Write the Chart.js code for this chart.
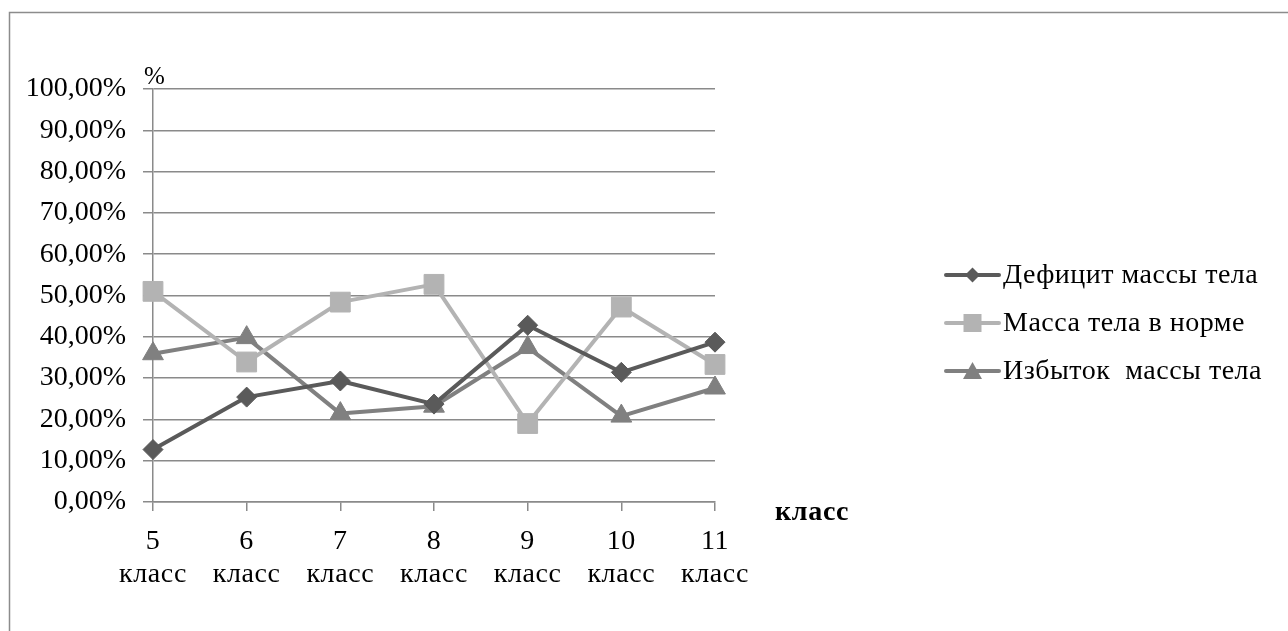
<!DOCTYPE html>
<html lang="ru">
<head>
<meta charset="utf-8">
<title>Распределение учащихся по массе тела</title>
<script src="https://cdn.jsdelivr.net/npm/chart.js@4.4.1/dist/chart.umd.min.js"></script>
<style>
  html, body { margin: 0; padding: 0; background: #ffffff; }
  #wrap { position: relative; width: 1288px; height: 631px; overflow: hidden; }
  canvas { display: block; }
</style>
</head>
<body>
<div id="wrap"><canvas id="chart" width="1288" height="631" style="width:1288px;height:631px"></canvas></div>
<script>
// Classes on the horizontal axis (two-line labels)
const categories = [
  ['5', 'класс'], ['6', 'класс'], ['7', 'класс'], ['8', 'класс'],
  ['9', 'класс'], ['10', 'класс'], ['11', 'класс']
];

// Share of pupils, %
const deficitValues = [12.7, 25.4, 29.3, 23.7, 42.8, 31.4, 38.7];
const normalValues  = [51.0, 33.9, 48.4, 52.7, 19.0, 47.2, 33.3];
const excessValues  = [35.9, 39.8, 21.4, 23.2, 37.4, 20.8, 27.6];

const seriesNames = ['Дефицит массы тела', 'Масса тела в норме', 'Избыток  массы тела'];

// Vertical axis tick labels, 0 to 100 in steps of 10
const yTickLabels = ['0,00%', '10,00%', '20,00%', '30,00%', '40,00%', '50,00%',
                     '60,00%', '70,00%', '80,00%', '90,00%', '100,00%'];

const yAxisTitle = '%';
const xAxisTitle = 'класс';

const FONT = "'Liberation Serif', 'Times New Roman', serif";
const AXIS_GRAY = '#8a8a8a';
const colors = ['#5a5a5a', '#b3b3b3', '#808080'];
const pointStyles = ['rectRot', 'rect', 'triangle'];
const pointRadii = [10, 14, 12];

// White page with the outer frame of the chart object
const framePlugin = {
  id: 'frame',
  beforeDraw(chart) {
    const ctx = chart.ctx;
    ctx.save();
    ctx.fillStyle = '#ffffff';
    ctx.fillRect(0, 0, chart.width, chart.height);
    ctx.strokeStyle = '#8c8c8c';
    ctx.lineWidth = 1.5;
    ctx.strokeRect(9.5, 12.5, chart.width + 20, chart.height + 20);
    ctx.restore();

    // slightly looser tracking for the category labels
    const xs = chart.scales.x;
    if (xs && !xs._tracked) {
      const orig = xs.drawLabels.bind(xs);
      xs.drawLabels = function (area) {
        const c = this.ctx;
        c.save();
        c.letterSpacing = '0.6px';
        orig(area);
        c.restore();
      };
      xs._tracked = true;
    }
  }
};

// Axis captions and the legend with line + marker samples
const extrasPlugin = {
  id: 'extras',
  afterDraw(chart) {
    const ctx = chart.ctx;
    const area = chart.chartArea;
    ctx.save();
    ctx.fillStyle = '#000000';
    ctx.textBaseline = 'alphabetic';
    ctx.textAlign = 'left';
    ctx.font = '25px ' + FONT;
    ctx.fillText(yAxisTitle, area.left - 9, area.top - 5);

    ctx.font = 'bold 28px ' + FONT;
    ctx.letterSpacing = '0.7px';
    ctx.textBaseline = 'middle';
    ctx.fillText(xAxisTitle, area.right + 60, area.bottom + 11);

    // legend
    const lx0 = 946, lx1 = 999, tx = 1003;
    const rows = [275, 323, 371];
    chart.data.datasets.forEach((ds, i) => {
      const y = rows[i];
      const cx = (lx0 + lx1) / 2;
      ctx.strokeStyle = ds.borderColor;
      ctx.lineWidth = 4;
      ctx.lineCap = 'round';
      ctx.beginPath();
      ctx.moveTo(lx0, y);
      ctx.lineTo(lx1, y);
      ctx.stroke();
      ctx.fillStyle = ds.borderColor;
      ctx.beginPath();
      if (i === 0) {
        ctx.moveTo(cx, y - 7.5); ctx.lineTo(cx + 7.5, y);
        ctx.lineTo(cx, y + 7.5); ctx.lineTo(cx - 7.5, y);
      } else if (i === 1) {
        ctx.rect(cx - 9, y - 9, 18, 18);
      } else {
        ctx.moveTo(cx, y - 9); ctx.lineTo(cx + 9.5, y + 8); ctx.lineTo(cx - 9.5, y + 8);
      }
      ctx.closePath();
      ctx.fill();
      ctx.fillStyle = '#000000';
      ctx.font = '28px ' + FONT;
      ctx.letterSpacing = '0.5px';
      ctx.textBaseline = 'middle';
      ctx.fillText(ds.label, tx, y + 1);
    });
    ctx.restore();
  }
};

const valueSets = [deficitValues, normalValues, excessValues];

new Chart(document.getElementById('chart'), {
  type: 'line',
  data: {
    labels: categories,
    datasets: valueSets.map((vals, i) => ({
      label: seriesNames[i],
      data: vals,
      borderColor: colors[i],
      backgroundColor: colors[i],
      borderWidth: 4,
      borderCapStyle: 'round',
      borderJoinStyle: 'round',
      pointStyle: pointStyles[i],
      pointRadius: pointRadii[i],
      pointBorderWidth: 1,
      pointBorderColor: colors[i],
      pointBackgroundColor: colors[i],
      tension: 0,
      fill: false
    }))
  },
  options: {
    responsive: false,
    animation: false,
    devicePixelRatio: 1,
    layout: { padding: { left: 0, top: 89, right: 573, bottom: 29 } },
    plugins: {
      legend: { display: false },
      tooltip: { enabled: false },
      title: { display: false }
    },
    scales: {
      x: {
        type: 'category',
        offset: false,
        grid: {
          display: true,
          drawOnChartArea: false,
          drawTicks: true,
          tickLength: 9,
          color: AXIS_GRAY,
          lineWidth: 1.5
        },
        border: { display: true, color: AXIS_GRAY, width: 1.5 },
        ticks: {
          color: '#000000',
          font: { family: FONT, size: 28, lineHeight: 1.15 },
          padding: 15,
          maxRotation: 0,
          autoSkip: false
        },
        afterFit(scale) {
          scale.height = 100;
          scale.paddingLeft = 0;
          scale.paddingRight = 0;
        }
      },
      y: {
        min: 0,
        max: 100,
        grid: {
          color: AXIS_GRAY,
          lineWidth: 1.5,
          drawTicks: true,
          tickLength: 10
        },
        border: { display: true, color: AXIS_GRAY, width: 1.5 },
        ticks: {
          stepSize: 10,
          color: '#000000',
          font: { family: FONT, size: 28 },
          padding: 17,
          callback: (value, index) => yTickLabels[index]
        },
        afterFit(scale) {
          scale.width = 153;
          scale.paddingTop = 0;
          scale.paddingBottom = 0;
        }
      }
    }
  },
  plugins: [framePlugin, extrasPlugin]
});
</script>
</body>
</html>
